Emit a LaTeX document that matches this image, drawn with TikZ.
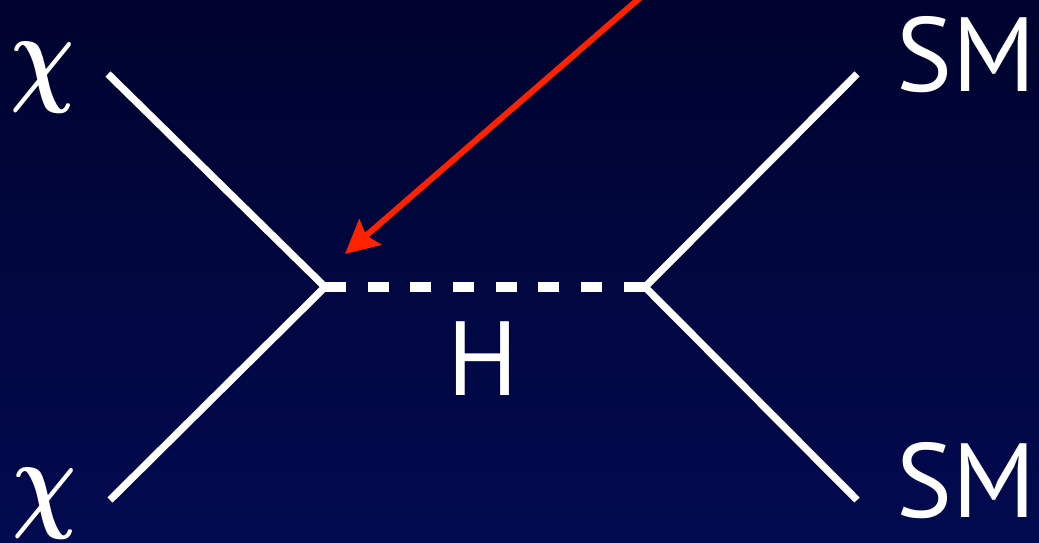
\documentclass[tikz,border=0pt]{standalone}
\usepackage{fontspec}
\setmainfont{PT Sans}
\usepackage{xcolor}
\usepackage{tikz}
\usetikzlibrary{arrows.meta}

\definecolor{bgtop}{RGB}{0,3,46}
\definecolor{bgbot}{RGB}{2,10,80}
\definecolor{arrowred}{RGB}{255,34,0}

\begin{document}
\begin{tikzpicture}[
  x=0.02cm, y=-0.02cm,
  leg/.style={draw=white, line width=4.2pt, line join=miter},
  prop/.style={draw=white, line width=6pt, dash pattern=on 11.95pt off 12.35pt},
  lbl/.style={text=white, font=\fontsize{60}{60}\selectfont, inner sep=0pt},
  ptcl/.style={text=white, font=\boldmath, inner sep=0pt, xscale=5.1, yscale=6.3},
  point/.style={-{Stealth[length=19pt, width=19pt, inset=3pt]}, draw=arrowred, line width=3.4pt}
]
  % background
  \shade[top color=bgtop, bottom color=bgbot] (0,0) rectangle (1039,543);
  \useasboundingbox (0,0) rectangle (1039,543);

  % vertices and leg ends
  \coordinate (vl) at (325,287);
  \coordinate (vr) at (645,287);
  \coordinate (inA) at (108,74);
  \coordinate (inB) at (110,500);
  \coordinate (outA) at (857,74);
  \coordinate (outB) at (857,500);
  \coordinate (src) at (642,-4);

  % labels
  \node[ptcl] (chiA) at (43,78) {$\chi$};
  \node[ptcl] (chiB) at (45,504) {$\chi$};
  \node[lbl] (smA) at (966,55) {SM};
  \node[lbl] (smB) at (966,481) {SM};
  \node[lbl] (higgs) at (483,359) {H};

  % legs
  \draw[leg] (inA) -- (vl) -- (inB);
  \draw[leg] (outA) -- (vr) -- (outB);
  \draw[prop] (vl) -- (vr);

  % pointer
  \draw[point] (src) -- ([shift={(20,-33)}]vl);
\end{tikzpicture}
\end{document}
